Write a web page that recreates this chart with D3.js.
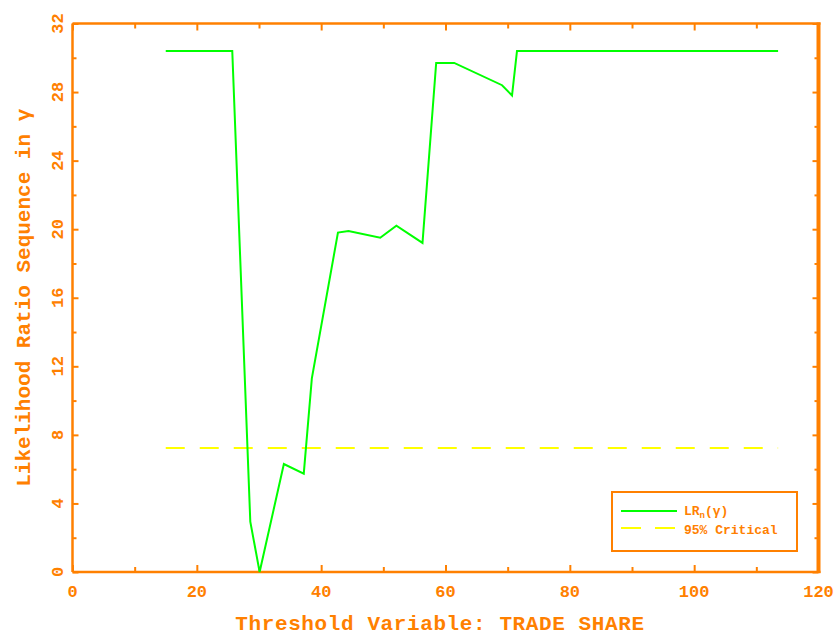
<!DOCTYPE html>
<html>
<head>
<meta charset="utf-8">
<script src="https://cdn.jsdelivr.net/npm/d3@7"></script>
<style>
  body { margin: 0; background: #fff; }
  svg { display: block; }
  text { font-family: "Liberation Mono", "Courier New", monospace; font-weight: bold; fill: #ff8000; }
</style>
</head>
<body>
<svg width="838" height="637"></svg>
<script>
// LR sequence over the threshold variable
const thresholds = [15, 25.7, 28.6, 30.1, 34.0, 37.2, 38.5, 42.7, 44.4, 49.5, 52.1, 56.3, 58.5, 61.4, 69.1, 70.7, 71.5, 113.5];
const lrValues = [30.4, 30.4, 2.94, 0, 6.3, 5.74, 11.3, 19.8, 19.9, 19.5, 20.2, 19.2, 29.7, 29.7, 28.4, 27.8, 30.4, 30.4];
const criticalValue = 7.24;

const xTicks = [0, 20, 40, 60, 80, 100, 120];
const xMinor = [10, 30, 50, 70, 90, 110];
const yTicks = [0, 4, 8, 12, 16, 20, 24, 28, 32];
const yMinor = [2, 6, 10, 14, 18, 22, 26, 30];

const orange = "#ff8000";
const green = "#00ff00";
const yellow = "#ffff00";

const svg = d3.select("svg");
const plotLeft = 72.5, plotRight = 818.5, plotTop = 23.5, plotBottom = 572;

const x = d3.scaleLinear().domain([0, 120]).range([plotLeft, plotRight]);
const y = d3.scaleLinear().domain([0, 32]).range([plotBottom, plotTop]);

// axes with inward ticks, all four sides
function styleAxis(g, w) {
    g.selectAll(".domain").remove();
    g.selectAll("line").attr("stroke", orange).attr("stroke-width", w);
}
svg.append("g").attr("transform", `translate(0,${plotBottom})`)
    .call(d3.axisBottom(x).tickValues(xTicks).tickSize(-7).tickFormat(""))
    .call(g => styleAxis(g, 2));
svg.append("g").attr("transform", `translate(0,${plotBottom})`)
    .call(d3.axisBottom(x).tickValues(xMinor).tickSize(-5).tickFormat(""))
    .call(g => styleAxis(g, 2));
svg.append("g").attr("transform", `translate(0,${plotTop})`)
    .call(d3.axisTop(x).tickValues(xTicks).tickSize(-7).tickFormat(""))
    .call(g => styleAxis(g, 2));
svg.append("g").attr("transform", `translate(0,${plotTop})`)
    .call(d3.axisTop(x).tickValues(xMinor).tickSize(-5).tickFormat(""))
    .call(g => styleAxis(g, 2));
svg.append("g").attr("transform", `translate(${plotLeft},0)`)
    .call(d3.axisLeft(y).tickValues(yTicks).tickSize(-6).tickFormat(""))
    .call(g => styleAxis(g, 2));
svg.append("g").attr("transform", `translate(${plotLeft},0)`)
    .call(d3.axisLeft(y).tickValues(yMinor).tickSize(-4).tickFormat(""))
    .call(g => styleAxis(g, 2));
svg.append("g").attr("transform", `translate(${plotRight},0)`)
    .call(d3.axisRight(y).tickValues(yTicks).tickSize(-6).tickFormat(""))
    .call(g => styleAxis(g, 2));
svg.append("g").attr("transform", `translate(${plotRight},0)`)
    .call(d3.axisRight(y).tickValues(yMinor).tickSize(-4).tickFormat(""))
    .call(g => styleAxis(g, 2));

// frame
svg.append("line").attr("x1", plotLeft).attr("x2", plotRight + 2).attr("y1", plotBottom).attr("y2", plotBottom)
    .attr("stroke", orange).attr("stroke-width", 2.5);
svg.append("line").attr("x1", plotLeft).attr("x2", plotRight + 2).attr("y1", plotTop).attr("y2", plotTop)
    .attr("stroke", orange).attr("stroke-width", 2.5);
svg.append("line").attr("x1", plotLeft).attr("x2", plotLeft).attr("y1", plotTop).attr("y2", plotBottom)
    .attr("stroke", orange).attr("stroke-width", 2.5);
svg.append("line").attr("x1", plotRight).attr("x2", plotRight).attr("y1", plotTop - 1).attr("y2", plotBottom + 1)
    .attr("stroke", orange).attr("stroke-width", 4);

// tick labels
svg.append("g").selectAll("text").data(xTicks).join("text")
    .attr("x", d => x(d)).attr("y", 597)
    .attr("text-anchor", "middle").style("font-size", "17px")
    .text(d => d);
svg.append("g").selectAll("text").data(yTicks).join("text")
    .attr("transform", d => `translate(63,${y(d)}) rotate(-90)`)
    .attr("text-anchor", "middle").style("font-size", "17px")
    .text(d => d);

// axis titles
svg.append("text").attr("x", 440).attr("y", 630)
    .attr("text-anchor", "middle").style("font-size", "21px")
    .style("letter-spacing", "0.6px")
    .text("Threshold Variable: TRADE SHARE");
svg.append("text")
    .attr("transform", `translate(30,${(plotTop + plotBottom) / 2}) rotate(-90)`)
    .attr("text-anchor", "middle").style("font-size", "21px")
    .text("Likelihood Ratio Sequence in γ");

// critical value line
const xr = d3.extent(thresholds);
svg.append("line")
    .attr("x1", x(xr[0])).attr("x2", x(xr[1]))
    .attr("y1", y(criticalValue)).attr("y2", y(criticalValue))
    .attr("stroke", yellow).attr("stroke-width", 2)
    .attr("stroke-dasharray", "19,15");

// LR sequence
const line = d3.line().x((d, i) => x(thresholds[i])).y(d => y(d));
svg.append("path").datum(lrValues)
    .attr("d", line)
    .attr("fill", "none").attr("stroke", green).attr("stroke-width", 2)
    .attr("stroke-linejoin", "miter");

// legend
const lg = svg.append("g");
lg.append("rect").attr("x", 612).attr("y", 492).attr("width", 185).attr("height", 59)
    .attr("fill", "#fff").attr("stroke", orange).attr("stroke-width", 2);
lg.append("line").attr("x1", 621).attr("x2", 677).attr("y1", 511).attr("y2", 511)
    .attr("stroke", green).attr("stroke-width", 2);
lg.append("line").attr("x1", 621).attr("x2", 677).attr("y1", 528).attr("y2", 528)
    .attr("stroke", yellow).attr("stroke-width", 2).attr("stroke-dasharray", "20,14");
const t1 = lg.append("text").attr("x", 684).attr("y", 515).style("font-size", "13px");
t1.append("tspan").text("LR");
t1.append("tspan").attr("dy", 3).style("font-size", "9px").text("n");
t1.append("tspan").attr("dy", -3).text("(γ)");
lg.append("text").attr("x", 684).attr("y", 534).style("font-size", "13px").text("95% Critical");
</script>
</body>
</html>
